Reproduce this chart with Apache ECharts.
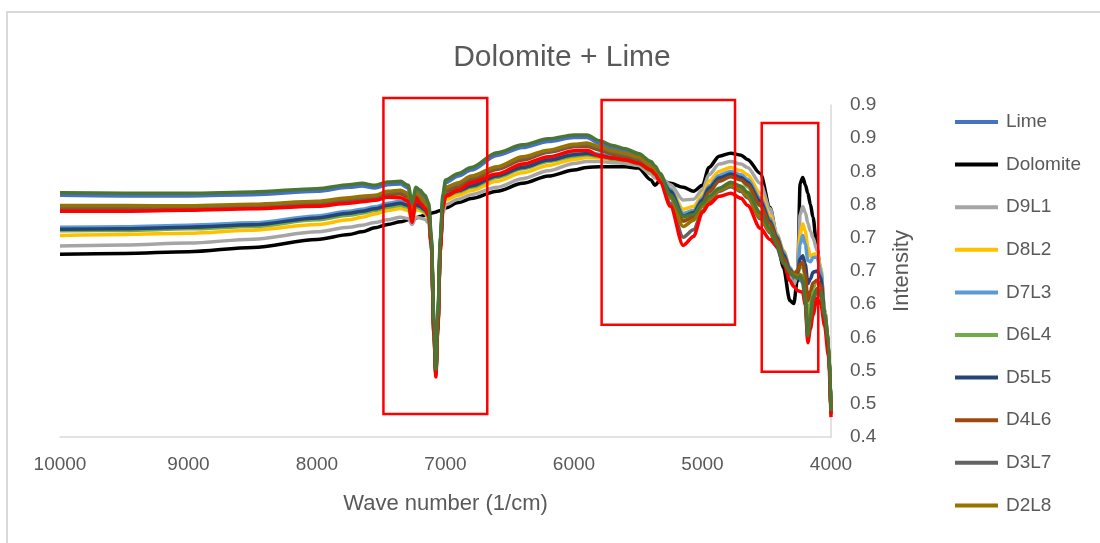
<!DOCTYPE html>
<html>
<head>
<meta charset="utf-8">
<script src="https://cdn.jsdelivr.net/npm/echarts@6/dist/echarts.min.js"></script>
<style>
html, body { margin: 0; padding: 0; background: #ffffff; }
#chart { width: 1100px; height: 543px; }
</style>
</head>
<body>
<div id="chart"></div>
<script>
// NIR spectra of dolomite / lime mixtures (wave number in 1/cm, intensity)
const wavenumbers = [10000, 9500, 9000, 8500, 8000, 7750, 7650, 7550, 7450, 7350,
  7290, 7260, 7230, 7200, 7160, 7130, 7110, 7090, 7075, 7060,
  7040, 7020, 7000, 6900, 6800, 6600, 6400, 6200, 6000, 5900,
  5800, 5700, 5600, 5500, 5400, 5370, 5330, 5250, 5150, 5070,
  5000, 4950, 4870, 4780, 4700, 4650, 4550, 4475, 4420, 4370,
  4320, 4290, 4260, 4240, 4220, 4200, 4180, 4160, 4140, 4110,
  4080, 4050, 4020, 4000];

const lime = [.764,.763,.763,.765,.770, .776,.778,.775,.780,.781,
  .775,.748,.772,.768,.760, .748,.696,.571,.498,.576,
  .696,.761,.783,.793,.802, .824,.836,.845,.851,.851,
  .842,.835,.830,.823,.811, .804,.793,.760,.728,.731,
  .748,.7585,.7706,.7797,.7736, .7646,.734,.710,.6845,.659,
  .644,.638,.635,.638,.632, .6014,.5486,.574,.6045,.6196,
  .6135,.5788,.541,.435];

const dolomite = [.6754,.6764,.679,.6855,.6976, .705,.709,.715,.720,.724,
  .727,.729,.730,.732,.734, .736,.737,.738,.739,.740,
  .741,.743,.745,.753,.759, .770,.782,.793,.802,.806,
  .807,.807,.807,.805,.787, .779,.787,.782,.776,.770,
  .779,.806,.823,.8275,.8245, .818,.797,.746,.7006,.655,
  .6054,.601,.640,.782,.791, .780,.767,.750,.731,.685,
  .648,.590,.545,.4347];

const d9l1 = [.6875,.689,.692,.698,.709, .716,.719,.723,.727,.731,
  .729,.720,.731,.730,.728, .722,.685,.570,.505,.570,
  .690,.737,.750,.758,.765, .776,.789,.801,.812,.815,
  .815,.813,.812,.809,.796, .790,.791,.780,.757,.758,
  .772,.795,.811,.815,.811, .806,.782,.744,.705,.676,
  .640,.628,.645,.735,.747, .738,.722,.710,.700,.682,
  .655,.592,.543,.436];

const d8l2 = [.7036,.705,.707,.7115,.720, .727,.731,.736,.741,.744,
  .741,.728,.743,.741,.737, .729,.690,.566,.500,.568,
  .690,.745,.757,.764,.771, .785,.798,.809,.818,.821,
  .820,.818,.816,.812,.800, .795,.790,.774,.743,.747,
  .765,.785,.800,.806,.801, .795,.767,.734,.705,.681,
  .655,.646,.652,.705,.721, .710,.686,.672,.675,.676,
  .655,.590,.540,.436];

const d7l3 = [.716,.7165,.719,.7225,.733, .740,.743,.7467,.752,.755,
  .752,.735,.754,.750,.745, .736,.692,.565,.500,.568,
  .690,.752,.766,.773,.780, .795,.808,.819,.827,.829,
  .826,.822,.820,.815,.804, .799,.793,.773,.737,.741,
  .760,.778,.794,.800,.795, .788,.760,.729,.703,.679,
  .655,.646,.650,.690,.704, .690,.666,.664,.670,.671,
  .650,.588,.540,.436];

const d6l4 = [.7107,.711,.7135,.717,.727, .734,.737,.741,.746,.749,
  .746,.728,.748,.744,.739, .730,.688,.563,.500,.566,
  .688,.748,.762,.769,.776, .791,.804,.815,.823,.825,
  .822,.818,.816,.811,.800, .795,.789,.767,.730,.735,
  .755,.772,.787,.793,.788, .777,.748,.720,.695,.670,
  .650,.644,.646,.655,.657, .640,.580,.600,.625,.635,
  .628,.580,.540,.437];

const d5l5 = [.713,.7135,.716,.7195,.730, .737,.740,.7437,.749,.752,
  .749,.732,.751,.747,.742, .733,.690,.565,.500,.568,
  .690,.750,.764,.771,.778, .793,.806,.817,.825,.827,
  .824,.820,.818,.813,.802, .797,.791,.770,.733,.738,
  .757,.775,.790,.796,.791, .784,.755,.725,.700,.675,
  .652,.645,.648,.668,.673, .660,.631,.638,.648,.650,
  .640,.585,.538,.436];

const d4l6 = [.744,.744,.745,.747,.751, .756,.758,.760,.765,.766,
  .761,.730,.765,.757,.749, .738,.690,.558,.496,.565,
  .686,.750,.770,.776,.787, .803,.817,.829,.837,.838,
  .832,.826,.822,.818,.806, .800,.792,.764,.725,.731,
  .752,.769,.785,.792,.787, .780,.749,.722,.697,.670,
  .650,.645,.650,.660,.663, .645,.605,.620,.632,.636,
  .628,.580,.540,.437];

const d3l7 = [.7465,.7465,.7462,.7485,.753, .7583,.7605,.762,.768,.7696,
  .765,.732,.7666,.7605,.7515, .7394,.691,.555,.4947,.5657,
  .6865,.7545,.774,.781,.791, .805,.820,.830,.839,.8406,
  .835,.829,.825,.8195,.806, .7998,.789,.752,.701,.712,
  .740,.755,.770,.777,.7696, .7605,.7288,.7077,.6865,.661,
  .646,.6427,.641,.6427,.6397, .6065,.555,.5808,.6095,.620,
  .614,.5808,.540,.4343];

const d2l8 = [.7485,.7485,.7482,.7505,.755, .7603,.7625,.764,.770,.7716,
  .767,.7338,.7686,.7625,.7535, .7414,.693,.557,.4967,.5677,
  .6885,.7565,.776,.783,.793, .807,.822,.832,.841,.8426,
  .837,.831,.827,.8215,.808, .8018,.7927,.761,.717,.7263,
  .7474,.758,.7716,.779,.7716, .7625,.7308,.7097,.6885,.663,
  .648,.6447,.643,.6447,.6417, .6085,.557,.5828,.6115,.622,
  .616,.5828,.542,.4363];

const d1l9 = [.740,.740,.7414,.7437,.7474, .752,.7542,.7565,.761,.7603,
  .755,.7233,.761,.752,.7444, .7338,.6885,.5526,.4906,.560,
  .681,.7444,.7625,.7716,.783, .796,.811,.822,.831,.832,
  .823,.820,.817,.8124,.802, .7958,.7837,.7474,.6885,.702,
  .7384,.7505,.7625,.767,.7595, .749,.7142,.6976,.687,.663,
  .6357,.6266,.6205,.619,.6175, .598,.542,.563,.584,.6085,
  .601,.5677,.5224,.430];

const sample = [.768,.767,.767,.769,.774, .780,.782,.779,.784,.785,
  .779,.752,.776,.772,.764, .752,.700,.575,.502,.580,
  .700,.765,.787,.797,.806, .828,.840,.849,.855,.855,
  .846,.839,.834,.827,.815, .808,.797,.764,.732,.735,
  .752,.7625,.7746,.7837,.7776, .7686,.738,.714,.6885,.663,
  .648,.642,.639,.642,.636, .6054,.5526,.578,.6085,.6236,
  .6175,.5828,.545,.439];

const seriesNames = ['Lime', 'Dolomite', 'D9L1', 'D8L2', 'D7L3', 'D6L4', 'D5L5', 'D4L6', 'D3L7', 'D2L8', 'D1L9', 'Sample'];
const seriesValues = [lime, dolomite, d9l1, d8l2, d7l3, d6l4, d5l5, d4l6, d3l7, d2l8, d1l9, sample];
const seriesColors = ['#4472C4', '#000000', '#A5A5A5', '#FFC000', '#5B9BD5', '#70AD47', '#264478', '#9E480E', '#636363', '#997300', '#FF0000', '#4A7532'];
const legendNames = seriesNames.slice(0, 10);

// Highlighted spectral regions: [wave number from, wave number to, intensity low, intensity high]
const regions = [
  [7483, 6675, 0.4347, 0.9106],
  [5785, 4747, 0.5692, 0.9076],
  [4539, 4099, 0.4982, 0.8728]
];

const FONT = 'Liberation Sans';
const TEXT = '#595959';

const chart = echarts.init(document.getElementById('chart'));

const series = seriesNames.map((name, i) => ({
  name: name,
  type: 'line',
  data: wavenumbers.map((w, j) => [w, seriesValues[i][j]]),
  symbol: 'none',
  showSymbol: false,
  smooth: 0.3,
  smoothMonotone: 'x',
  lineStyle: { width: 3.5, color: seriesColors[i] },
  itemStyle: { color: seriesColors[i] },
  emphasis: { disabled: true }
}));

chart.setOption({
  animation: false,
  backgroundColor: '#ffffff',
  textStyle: { fontFamily: FONT },
  title: {
    text: 'Dolomite + Lime',
    left: 557,
    textAlign: 'center',
    top: 38,
    textStyle: { fontFamily: FONT, fontSize: 30, fontWeight: 'normal', color: TEXT }
  },
  legend: {
    data: legendNames,
    orient: 'vertical',
    left: 955,
    top: 112,
    padding: 0,
    icon: 'rect',
    itemWidth: 43,
    itemHeight: 4,
    itemGap: 22.6,
    textStyle: { fontFamily: FONT, fontSize: 19, color: TEXT, lineHeight: 20, padding: [0, 0, 0, 3] }
  },
  grid: { left: 60, right: 269, top: 105, bottom: 106, containLabel: false },
  xAxis: {
    type: 'value',
    min: 4000,
    max: 10000,
    interval: 1000,
    inverse: true,
    name: 'Wave number (1/cm)',
    nameLocation: 'middle',
    nameGap: 56,
    nameTextStyle: { fontFamily: FONT, fontSize: 22, color: TEXT },
    axisLine: { show: true, lineStyle: { color: '#D9D9D9', width: 1.5 } },
    axisTick: { show: false },
    splitLine: { show: false },
    axisLabel: {
      margin: 18,
      fontFamily: FONT,
      fontSize: 19,
      color: TEXT,
      formatter: v => String(Math.round(v))
    }
  },
  yAxis: {
    type: 'value',
    position: 'right',
    min: 0.4,
    max: 0.9,
    interval: 0.05,
    name: 'Intensity',
    nameLocation: 'middle',
    nameRotate: 90,
    nameGap: 60,
    nameTextStyle: { fontFamily: FONT, fontSize: 22, color: TEXT },
    axisLine: { show: true, lineStyle: { color: '#D9D9D9', width: 1.5 } },
    axisTick: { show: false },
    splitLine: { show: false },
    axisLabel: {
      margin: 19,
      fontFamily: FONT,
      fontSize: 19,
      color: TEXT,
      formatter: v => (Math.round(v * 10 + 1e-6) / 10).toFixed(1)
    }
  },
  series: series
});

// Chart border and the red boxes around the absorption regions
const boxes = regions.map(r => {
  const a = chart.convertToPixel({ gridIndex: 0 }, [r[0], r[3]]);
  const b = chart.convertToPixel({ gridIndex: 0 }, [r[1], r[2]]);
  return {
    type: 'rect',
    z: 100,
    shape: {
      x: Math.min(a[0], b[0]),
      y: Math.min(a[1], b[1]),
      width: Math.abs(b[0] - a[0]),
      height: Math.abs(b[1] - a[1])
    },
    style: { fill: null, stroke: '#FF0000', lineWidth: 2.5 }
  };
});

chart.setOption({
  graphic: [
    {
      type: 'rect',
      z: 0,
      silent: true,
      shape: { x: 7, y: 12, width: 1200, height: 600 },
      style: { fill: null, stroke: '#D9D9D9', lineWidth: 2 }
    }
  ].concat(boxes)
});
</script>
</body>
</html>
